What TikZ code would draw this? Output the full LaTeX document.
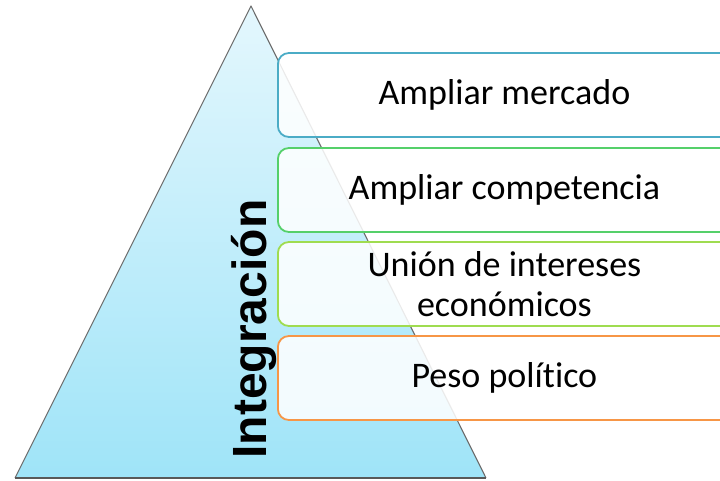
\documentclass[tikz,border=0pt]{standalone}
\usepackage{fontspec}
\setmainfont{Carlito}[Ligatures=NoCommon]
\newfontfamily\titlefont{Liberation Sans}
\usepackage{tikz}

\definecolor{boxblue}{HTML}{4BACC6}
\definecolor{boxgreen}{HTML}{55D06A}
\definecolor{boxlime}{HTML}{9FDC50}
\definecolor{boxorange}{HTML}{F79646}
\definecolor{pyrtop}{HTML}{E4F7FD}
\definecolor{pyrbottom}{HTML}{9FE4F8}

\begin{document}
\begin{tikzpicture}[x=1pt, y=-1pt,
		goalbox/.style={draw, line width=1.8pt, rounded corners=11pt, fill=white, fill opacity=0.86,
			text opacity=1, minimum width=453pt, minimum height=84pt, anchor=west, inner sep=0pt},
		goaltext/.style={font=\fontsize{36}{40}\selectfont, align=center, text=black}]
		\useasboundingbox (0,0) rectangle (720,481);
		% pyramid
		\shade[top color=pyrtop, bottom color=pyrbottom] (251,6) -- (486,478) -- (15,478) -- cycle;
		\draw[gray!85!black, line width=1.1pt, line join=round] (15,478) -- (251,6) -- (486,478);
		\draw[gray!70!black, line width=2pt] (15,478) -- (486,478);
		\node[rotate=90, anchor=base, inner sep=0pt, font=\titlefont\bfseries\fontsize{48}{50}\selectfont] (integ) at (266,329) {Integración};
		% the four goals
		\begin{scope}
			\clip (0,0) rectangle (720,481);
			\node[goalbox, draw=boxblue] (mercado) at (277,95) {};
			\node[goalbox, draw=boxgreen] (competencia) at (277,190) {};
			\node[goalbox, draw=boxlime] (intereses) at (277,284) {};
			\node[goalbox, draw=boxorange] (peso) at (277,378) {};
		\end{scope}
		\node[goaltext] (tmercado) at (mercado.center) {Ampliar mercado};
		\node[goaltext] (tcompetencia) at (competencia.center) {Ampliar competencia};
		\node[goaltext] (tintereses) at (intereses.center) {Unión de intereses\\económicos};
		\node[goaltext] (tpeso) at (peso.center) {Peso político};
	\end{tikzpicture}
\end{document}
